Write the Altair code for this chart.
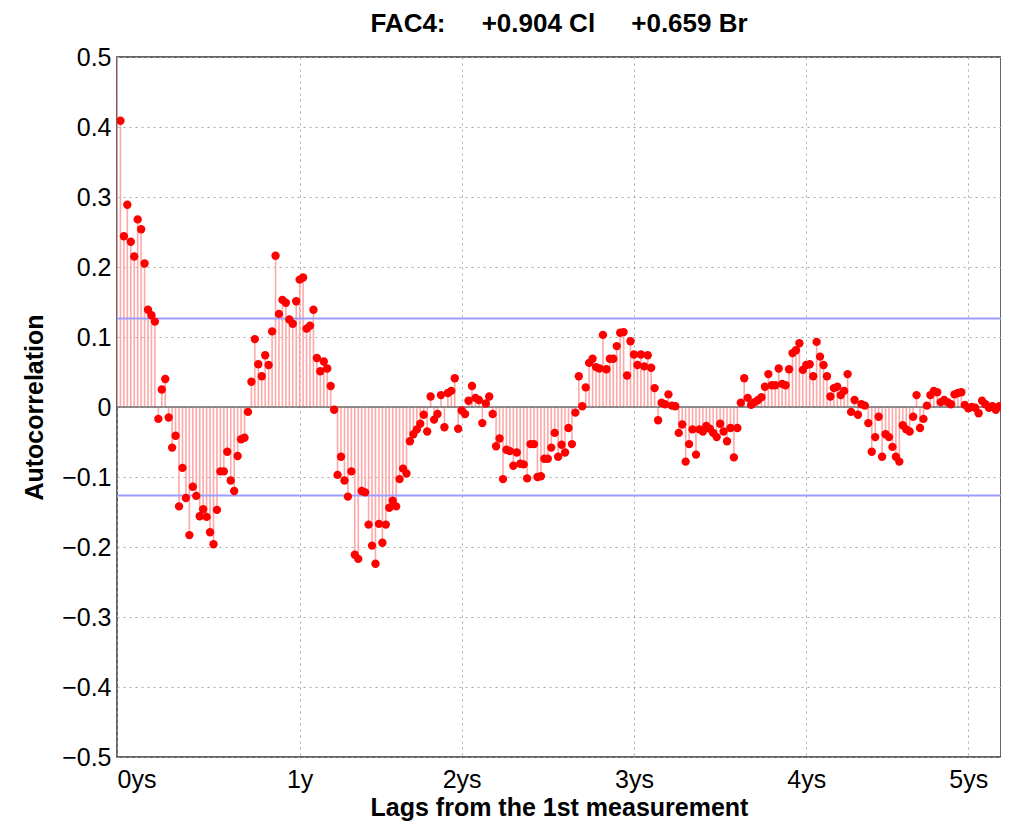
import altair as alt
import pandas as pd

# ---- data ----
acf = [
    1.0, 0.409, 0.244, 0.289, 0.236, 0.215, 0.268, 0.254, 0.205, 0.139,
    0.131, 0.122, -0.017, 0.025, 0.040, -0.015, -0.058, -0.041, -0.142, -0.087,
    -0.130, -0.183, -0.114, -0.127, -0.156, -0.146, -0.157, -0.179, -0.196, -0.147,
    -0.092, -0.092, -0.064, -0.105, -0.120, -0.070, -0.046, -0.044, -0.007, 0.036,
    0.097, 0.061, 0.044, 0.074, 0.060, 0.108, 0.216, 0.133, 0.153, 0.149,
    0.125, 0.119, 0.151, 0.182, 0.185, 0.112, 0.116, 0.139, 0.070, 0.051,
    0.065, 0.055, 0.030, -0.004, -0.097, -0.071, -0.105, -0.128, -0.092, -0.211,
    -0.217, -0.120, -0.122, -0.168, -0.198, -0.224, -0.167, -0.194, -0.168, -0.144,
    -0.134, -0.142, -0.103, -0.088, -0.095, -0.049, -0.039, -0.032, -0.024, -0.011,
    -0.035, 0.015, -0.018, -0.010, 0.017, -0.029, 0.020, 0.023, 0.041, -0.031,
    -0.005, -0.010, 0.009, 0.030, 0.013, 0.010, -0.023, 0.005, 0.015, -0.010,
    -0.056, -0.045, -0.103, -0.061, -0.063, -0.084, -0.065, -0.081, -0.082, -0.102,
    -0.053, -0.053, -0.100, -0.099, -0.074, -0.074, -0.058, -0.037, -0.071, -0.054,
    -0.065, -0.030, -0.053, -0.008, 0.044, 0.001, 0.028, 0.063, 0.069, 0.057,
    0.055, 0.103, 0.054, 0.069, 0.069, 0.087, 0.106, 0.107, 0.045, 0.094,
    0.075, 0.060, 0.075, 0.058, 0.074, 0.056, 0.027, -0.019, 0.006, 0.004,
    0.018, 0.002, 0.001, -0.037, -0.025, -0.078, -0.053, -0.032, -0.068, -0.032,
    -0.035, -0.027, -0.031, -0.037, -0.043, -0.024, -0.035, -0.049, -0.030, -0.072,
    -0.030, 0.006, 0.041, 0.013, 0.003, 0.007, 0.010, 0.014, 0.029, 0.047,
    0.031, 0.031, 0.055, 0.033, 0.031, 0.054, 0.077, 0.081, 0.091, 0.053,
    0.060, 0.061, 0.044, 0.093, 0.072, 0.060, 0.044, 0.015, 0.027, 0.029,
    0.017, 0.023, 0.047, -0.007, 0.010, -0.011, 0.004, 0.002, -0.023, -0.064,
    -0.043, -0.014, -0.071, -0.039, -0.043, -0.057, -0.071, -0.078, -0.026, -0.032,
    -0.035, -0.014, 0.017, -0.030, -0.017, 0.002, 0.017, 0.023, 0.021, 0.007,
    0.010, 0.007, 0.004, 0.018, 0.020, 0.021, 0.003, -0.002, 0.000, -0.001,
    -0.009, 0.009, 0.004, -0.001, 0.001, -0.004, 0.001,
]
lags = list(range(len(acf)))

x_tick_values = [0, 53, 100, 150, 200, 247]
x_tick_labels = ["0ys", "1y", "2ys", "3ys", "4ys", "5ys"]
y_tick_values = [-0.5, -0.4, -0.3, -0.2, -0.1, 0.0, 0.1, 0.2, 0.3, 0.4, 0.5]
conf_levels = [0.1265, -0.1265]
zero_level = [0.0]

title_text = "FAC4:\u00a0\u00a0\u00a0\u00a0\u00a0+0.904 Cl\u00a0\u00a0\u00a0\u00a0\u00a0+0.659 Br"

df = pd.DataFrame({"lag": lags, "acf": acf})
df["base"] = 0.0
conf_df = pd.DataFrame({"acf": conf_levels})
zero_df = pd.DataFrame({"acf": zero_level})

label_expr = (
    "[" + ",".join(f"'{s}'" for s in x_tick_labels) + "]"
    "[indexof([" + ",".join(str(v) for v in x_tick_values) + "], datum.value)]"
)

x_enc = alt.X(
    "lag:Q",
    scale=alt.Scale(domain=[0, 256.5], nice=False, zero=False),
    axis=alt.Axis(
        values=x_tick_values,
        labelExpr=label_expr,
        title="Lags from the 1st measurement",
        grid=True,
    ),
)
y_enc = alt.Y(
    "acf:Q",
    scale=alt.Scale(domain=[-0.5, 0.5], nice=False),
    axis=alt.Axis(
        values=y_tick_values,
        labelExpr="abs(datum.value) < 1e-9 ? '0' : format(datum.value, '.1f')",
        title="Autocorrelation",
        grid=True,
    ),
)

stems = alt.Chart(df).mark_rule(color="#ffa8a8", strokeWidth=1.6, clip=True).encode(
    x=x_enc, y=y_enc, y2="base:Q"
)
zero_line = alt.Chart(zero_df).mark_rule(color="#6e6e6e", strokeWidth=1.5).encode(y=y_enc)
conf_lines = alt.Chart(conf_df).mark_rule(color="#9c9cff", strokeWidth=2).encode(y=y_enc)
points = alt.Chart(df).mark_circle(color="#ff0000", size=70, opacity=1, clip=True).encode(
    x=x_enc, y=y_enc
)

chart = (
    alt.layer(stems, conf_lines, zero_line, points)
    .properties(
        width=884,
        height=700,
        title=alt.TitleParams(title_text),
        autosize=alt.AutoSizeParams(type="none"),
        padding={"left": 109, "top": 49, "right": 0, "bottom": 66},
    )
    .configure_view(stroke="#333333", strokeWidth=1.5)
    .configure_axis(
        labelFont="Liberation Sans",
        labelFontSize=25,
        labelColor="black",
        titleFont="Liberation Sans",
        titleFontSize=25,
        titleFontWeight="bold",
        titleColor="black",
        gridColor="#a8a8a8",
        gridDash=[2, 4],
        gridWidth=1,
        ticks=False,
        domain=False,
        labelPadding=6,
    )
    .configure_axisX(labelPadding=10, titlePadding=3)
    .configure_axisY(titlePadding=14)
    .configure_title(
        font="Liberation Sans",
        fontSize=26,
        fontWeight="bold",
        color="black",
        anchor="middle",
        offset=8,
    )
)

chart.save("out.html", embed_options={"renderer": "svg", "actions": False})
